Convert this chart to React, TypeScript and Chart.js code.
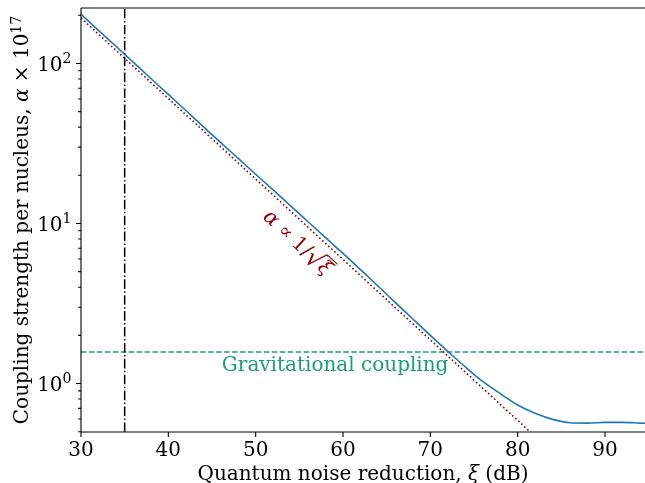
import React, { useEffect, useRef } from 'react';
import { Chart, registerables } from 'chart.js';

Chart.register(...registerables);

// ---- data ----
const noiseReduction = [30, 32, 34, 35, 36, 38, 40, 42, 44, 46, 48, 50, 52, 54, 56, 58, 60, 62, 64, 66, 68, 70, 72, 74, 76, 78, 80, 82, 84, 86, 88, 90, 92, 94, 95];
const couplingStrength = [203, 161, 128, 114, 101.5, 80.5, 64, 50.8, 40.3, 32, 25.5, 20.3, 16.2, 12.9, 10.25, 8.15, 6.5, 5.15, 4.07, 3.2, 2.53, 2.0, 1.59, 1.27, 1.03, 0.865, 0.735, 0.652, 0.597, 0.569, 0.566, 0.572, 0.572, 0.566, 0.563];
const scalingX = [30, 85];
const scalingY = [192, 0.33];
const gravitationalCoupling = 1.576;
const markerNoise = 35;

const X_MIN = 30;
const X_MAX = 94.58;
const Y_MIN = 0.498;
const Y_MAX = 222;

const xTicks = [30, 40, 50, 60, 70, 80, 90];
const yMajorTicks = [1, 10, 100];
const yExponents = ['0', '1', '2'];
const yMinorTicks = [0.5, 0.6, 0.7, 0.8, 0.9, 2, 3, 4, 5, 6, 7, 8, 9, 20, 30, 40, 50, 60, 70, 80, 90, 200];

const xTitle = 'Quantum noise reduction, ';
const yTitle = 'Coupling strength per nucleus, ';
const gravLabel = 'Gravitational coupling';

// label anchors (data coordinates)
const gravLabelX = 59.1;
const gravLabelY = 1.194;
const scalingLabelX = 54.8;
const scalingLabelY = 7.6;

const FONT = '"DejaVu Serif", serif';
const FS = 20;
const SUP = 14;

type Part = { t: string; italic?: boolean; size?: number; rise?: number };

function fontOf(p: Part) {
  return `${p.italic ? 'italic ' : ''}${p.size ?? FS}px ${FONT}`;
}

function richWidth(ctx: CanvasRenderingContext2D, parts: Part[]) {
  let w = 0;
  for (const p of parts) {
    ctx.font = fontOf(p);
    w += ctx.measureText(p.t).width;
  }
  return w;
}

function drawRich(ctx: CanvasRenderingContext2D, parts: Part[], x: number, y: number, align: 'left' | 'center' | 'right') {
  const w = richWidth(ctx, parts);
  let cx = align === 'left' ? x : align === 'center' ? x - w / 2 : x - w;
  ctx.textAlign = 'left';
  ctx.textBaseline = 'alphabetic';
  for (const p of parts) {
    ctx.font = fontOf(p);
    ctx.fillText(p.t, cx, y - (p.rise ?? 0));
    cx += ctx.measureText(p.t).width;
  }
}

const decorPlugin = {
  id: 'decor',
  afterDatasetsDraw(chart: any) {
    const ctx: CanvasRenderingContext2D = chart.ctx;
    const xs = chart.scales.x;
    const ys = chart.scales.y;
    const a = chart.chartArea;
    ctx.save();

    // Gravitational coupling label
    ctx.fillStyle = '#1b9e77';
    drawRich(ctx, [{ t: gravLabel }], xs.getPixelForValue(gravLabelX), ys.getPixelForValue(gravLabelY), 'center');

    // scaling annotation, rotated along the dotted line
    const p1x = xs.getPixelForValue(scalingX[0]);
    const p1y = ys.getPixelForValue(scalingY[0]);
    const p2x = xs.getPixelForValue(scalingX[1]);
    const p2y = ys.getPixelForValue(scalingY[1]);
    const ang = Math.atan2(p2y - p1y, p2x - p1x);
    ctx.save();
    ctx.translate(xs.getPixelForValue(scalingLabelX), ys.getPixelForValue(scalingLabelY));
    ctx.rotate(ang);
    ctx.fillStyle = '#8b0000';
    ctx.strokeStyle = '#8b0000';
    const parts: Part[] = [
      { t: 'α', italic: true, size: 21 },
      { t: ' ∝ ', size: 19 },
      { t: '1/', size: 20 },
      { t: '√', size: 25, rise: -3 },
      { t: 'ξ', italic: true, size: 20 },
    ];
    const w = richWidth(ctx, parts);
    let cx = -w / 2;
    const base = 6;
    ctx.textAlign = 'left';
    ctx.textBaseline = 'alphabetic';
    let sqrtEnd = 0;
    for (let i = 0; i < parts.length; i++) {
      const p = parts[i];
      ctx.font = fontOf(p);
      ctx.fillText(p.t, cx, base - (p.rise ?? 0));
      cx += ctx.measureText(p.t).width;
      if (i === 3) sqrtEnd = cx;
    }
    ctx.lineWidth = 1.1;
    ctx.beginPath();
    ctx.moveTo(sqrtEnd - 1.5, base - 17);
    ctx.lineTo(cx + 1.5, base - 17);
    ctx.stroke();
    ctx.restore();

    // spines
    ctx.strokeStyle = '#000';
    ctx.lineWidth = 1.1;
    ctx.beginPath();
    ctx.moveTo(a.left, a.top);
    ctx.lineTo(a.left, a.bottom);
    ctx.moveTo(a.left, a.bottom);
    ctx.lineTo(a.right, a.bottom);
    ctx.moveTo(a.left, a.top);
    ctx.lineTo(a.right, a.top);
    ctx.stroke();

    // ticks
    ctx.fillStyle = '#000';
    ctx.beginPath();
    for (const v of xTicks) {
      const px = xs.getPixelForValue(v);
      ctx.moveTo(px, a.bottom);
      ctx.lineTo(px, a.bottom + 4.9);
    }
    for (const v of yMajorTicks) {
      const py = ys.getPixelForValue(v);
      ctx.moveTo(a.left, py);
      ctx.lineTo(a.left - 4.9, py);
    }
    for (const v of yMinorTicks) {
      const py = ys.getPixelForValue(v);
      ctx.moveTo(a.left, py);
      ctx.lineTo(a.left - 2.8, py);
    }
    ctx.stroke();

    for (const v of xTicks) {
      drawRich(ctx, [{ t: String(v) }], xs.getPixelForValue(v), a.bottom + 24, 'center');
    }
    yMajorTicks.forEach((v, i) => {
      const py = ys.getPixelForValue(v);
      drawRich(ctx, [{ t: '10' }, { t: yExponents[i], size: SUP, rise: 7.5 }], a.left - 9.5, py + 7.3, 'right');
    });

    // x title
    drawRich(ctx, [{ t: xTitle }, { t: 'ξ', italic: true }, { t: ' (dB)' }], (a.left + a.right) / 2, 479.5, 'center');

    // y title
    ctx.save();
    ctx.translate(28, (a.top + a.bottom) / 2);
    ctx.rotate(-Math.PI / 2);
    drawRich(ctx, [{ t: yTitle }, { t: 'α', italic: true }, { t: ' × 10' }, { t: '17', size: SUP, rise: 7.5 }], 0, 0, 'center');
    ctx.restore();

    ctx.restore();
  },
};

export default function App() {
  const ref = useRef<HTMLCanvasElement | null>(null);
  useEffect(() => {
    if (!ref.current) return;
    const chart = new Chart(ref.current, {
      type: 'line',
      data: {
        datasets: [
          {
            label: 'marker',
            data: [{ x: markerNoise, y: Y_MIN }, { x: markerNoise, y: Y_MAX }],
            borderColor: '#000',
            borderWidth: 1.5,
            borderDash: [9.6, 2.4, 1.5, 2.4],
            pointRadius: 0,
            fill: false,
          },
          {
            label: 'coupling',
            data: noiseReduction.map((x, i) => ({ x, y: couplingStrength[i] })),
            borderColor: '#1f77b4',
            borderWidth: 1.6,
            pointRadius: 0,
            tension: 0.4,
            cubicInterpolationMode: 'monotone',
            fill: false,
          },
          {
            label: 'scaling',
            data: scalingX.map((x, i) => ({ x, y: scalingY[i] })),
            borderColor: '#8b0000',
            borderWidth: 1.6,
            borderDash: [1.6, 2.5],
            pointRadius: 0,
            fill: false,
          },
          {
            label: 'grav',
            data: [{ x: X_MIN, y: gravitationalCoupling }, { x: X_MAX, y: gravitationalCoupling }],
            borderColor: '#1b9e77',
            borderWidth: 1.5,
            borderDash: [5.55, 2.4],
            pointRadius: 0,
            fill: false,
          },
        ],
      },
      options: {
        animation: false,
        responsive: false,
        events: [],
        layout: { padding: { left: 81, top: 8, right: 0, bottom: 51 } },
        plugins: { legend: { display: false }, tooltip: { enabled: false }, title: { display: false } },
        scales: {
          x: { type: 'linear', min: X_MIN, max: X_MAX, display: false },
          y: { type: 'logarithmic', min: Y_MIN, max: Y_MAX, display: false },
        },
      },
      plugins: [decorPlugin],
    } as any);
    return () => chart.destroy();
  }, []);
  return (
    <div style={{ position: 'absolute', left: 0, top: 0, width: 645, height: 483, background: '#fff' }}>
      <canvas ref={ref} width={645} height={483} style={{ display: 'block' }} />
    </div>
  );
}
